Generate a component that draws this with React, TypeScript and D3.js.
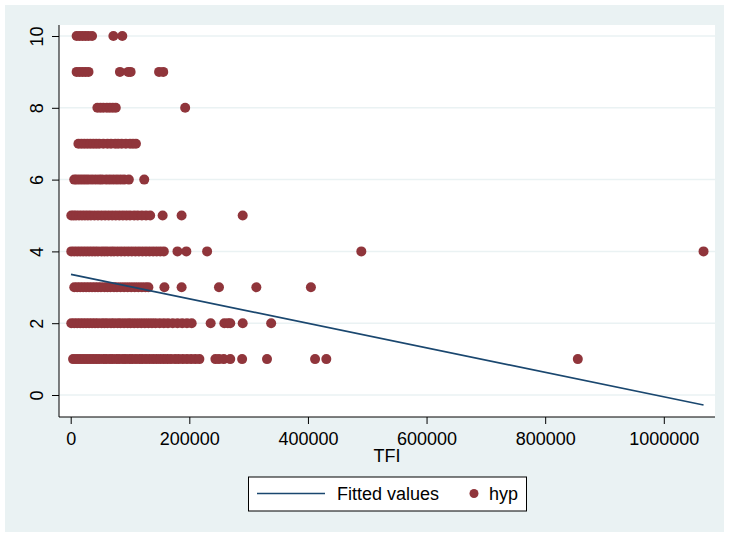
import { useEffect, useRef } from 'react';
import * as d3 from 'd3';

// TFI values observed at each hyp level
const hyp1 = [4000, 9000, 14000, 19000, 24000, 29000, 34000, 39000, 44000, 49000, 55000, 60000, 66000, 71000, 77000, 82000, 88000, 93000, 99000, 104000, 110000, 116000, 121000, 127000, 133000, 139000, 145000, 151000, 157000, 163000, 169000, 176000, 182000, 189000, 196000, 203000, 210000, 217000, 244000, 250000, 258000, 269000, 289000, 331000, 412000, 431000, 855000];
const hyp2 = [1000, 6000, 11000, 16000, 21000, 26000, 31000, 36000, 41000, 46000, 52000, 57000, 62000, 68000, 73000, 79000, 84000, 90000, 96000, 101000, 107000, 113000, 119000, 125000, 131000, 137000, 143000, 150000, 157000, 164000, 172000, 180000, 188000, 196000, 204000, 236000, 259000, 265000, 269000, 290000, 338000];
const hyp3 = [6000, 11000, 16000, 21000, 26000, 31000, 36000, 41000, 46000, 51000, 57000, 62000, 67000, 73000, 78000, 84000, 90000, 96000, 102000, 108000, 114000, 120000, 126000, 131000, 158000, 187000, 250000, 313000, 405000];
const hyp4 = [1000, 6000, 11000, 16000, 21000, 26000, 31000, 36000, 41000, 46000, 52000, 57000, 62000, 68000, 73000, 79000, 85000, 91000, 97000, 103000, 109000, 115000, 121000, 127000, 133000, 139000, 145000, 151000, 157000, 180000, 195000, 230000, 490000, 1067000];
const hyp5 = [1000, 5000, 9000, 14000, 19000, 24000, 29000, 34000, 40000, 46000, 52000, 58000, 64000, 70000, 76000, 82000, 88000, 94000, 100000, 107000, 113000, 120000, 127000, 134000, 155000, 187000, 290000];
const hyp6 = [6000, 10000, 15000, 20000, 25000, 30000, 36000, 42000, 48000, 53000, 60000, 66000, 72000, 78000, 84000, 90000, 98000, 124000];
const hyp7 = [13000, 18000, 23000, 28000, 33000, 38000, 43000, 48000, 55000, 62000, 68000, 75000, 80000, 86000, 93000, 100000, 105000, 110000];
const hyp8 = [45000, 50000, 55000, 61000, 66000, 71000, 76000, 193000];
const hyp9 = [10000, 15000, 20000, 25000, 30000, 83000, 97000, 101000, 149000, 156000];
const hyp10 = [10000, 15000, 20000, 25000, 30000, 36000, 72000, 87000];

const hypLevels = [1, 2, 3, 4, 5, 6, 7, 8, 9, 10];
const tfiByLevel = [hyp1, hyp2, hyp3, hyp4, hyp5, hyp6, hyp7, hyp8, hyp9, hyp10];

// linear fit end points
const fitX = [500, 1067000];
const fitY = [3.36, -0.28];

const xTicks = [0, 200000, 400000, 600000, 800000, 1000000];
const yTicks = [0, 2, 4, 6, 8, 10];

const FONT = '"Liberation Sans", Arial, sans-serif';
const NAVY = '#1a476f';
const MAROON = '#90353b';

export default function App() {
    const svgRef = useRef<SVGSVGElement | null>(null);

    useEffect(() => {
        if (!svgRef.current) return;
        const svg = d3.select(svgRef.current);
        svg.selectAll('*').remove();

        const plot = { left: 59, right: 715, top: 25, bottom: 417 };

        const x = d3.scaleLinear().domain([0, 1000000]).range([70.7, 663.8]);
        const y = d3.scaleLinear().domain([0, 10]).range([395, 36]);

        // outer graph region
        svg.append('rect')
            .attr('x', 5).attr('y', 5)
            .attr('width', 719).attr('height', 527)
            .attr('fill', '#eaf2f3');

        // plot region
        svg.append('rect')
            .attr('x', plot.left).attr('y', plot.top)
            .attr('width', plot.right - plot.left)
            .attr('height', plot.bottom - plot.top)
            .attr('fill', '#ffffff');

        // grid lines
        svg.append('g')
            .selectAll('line')
            .data(yTicks)
            .enter()
            .append('line')
            .attr('x1', plot.left).attr('x2', plot.right)
            .attr('y1', d => y(d)).attr('y2', d => y(d))
            .attr('stroke', '#eaf2f3')
            .attr('stroke-width', 1.5);

        // points
        const points = hypLevels.flatMap((h, i) => tfiByLevel[i].map(v => ({ tfi: v, hyp: h })));
        svg.append('g')
            .selectAll('circle')
            .data(points)
            .enter()
            .append('circle')
            .attr('cx', d => x(d.tfi))
            .attr('cy', d => y(d.hyp))
            .attr('r', 5)
            .attr('fill', MAROON);

        // fitted line
        const line = d3.line<number>()
            .x(d => x(d))
            .y((d, i) => y(fitY[i]));
        svg.append('path')
            .attr('d', line(fitX))
            .attr('fill', 'none')
            .attr('stroke', NAVY)
            .attr('stroke-width', 1.6);

        // y axis
        const yAxis = svg.append('g')
            .attr('transform', `translate(${plot.left},0)`)
            .call(d3.axisLeft(y).tickValues(yTicks).tickSize(7).tickFormat(d3.format('d')));
        yAxis.select('.domain')
            .attr('d', `M0,${plot.top}V${plot.bottom}`)
            .attr('stroke', '#000');
        yAxis.selectAll('.tick line').attr('stroke', '#000');
        yAxis.selectAll('.tick text')
            .attr('x', null).attr('dy', null)
            .attr('transform', 'translate(-16,0) rotate(-90)')
            .attr('text-anchor', 'middle')
            .attr('font-family', FONT)
            .attr('font-size', 18)
            .attr('fill', '#000');

        // x axis
        const xAxis = svg.append('g')
            .attr('transform', `translate(0,${plot.bottom})`)
            .call(d3.axisBottom(x).tickValues(xTicks).tickSize(7).tickFormat(d3.format('d')));
        xAxis.select('.domain')
            .attr('d', `M${plot.left},0H${plot.right}`)
            .attr('stroke', '#000');
        xAxis.selectAll('.tick line').attr('stroke', '#000');
        xAxis.selectAll('.tick text')
            .attr('y', 28).attr('dy', null)
            .attr('font-family', FONT)
            .attr('font-size', 18)
            .attr('fill', '#000');

        svg.append('text')
            .attr('x', (plot.left + plot.right) / 2)
            .attr('y', 462)
            .attr('text-anchor', 'middle')
            .attr('font-family', FONT)
            .attr('font-size', 18)
            .text('TFI');

        // legend
        const legend = svg.append('g');
        legend.append('rect')
            .attr('x', 248.5).attr('y', 477)
            .attr('width', 278).attr('height', 34)
            .attr('fill', '#fff')
            .attr('stroke', '#000')
            .attr('stroke-width', 1);
        legend.append('line')
            .attr('x1', 257).attr('x2', 325)
            .attr('y1', 493.5).attr('y2', 493.5)
            .attr('stroke', NAVY)
            .attr('stroke-width', 1.6);
        legend.append('text')
            .attr('x', 337).attr('y', 500)
            .attr('font-family', FONT)
            .attr('font-size', 18)
            .text('Fitted values');
        legend.append('circle')
            .attr('cx', 474).attr('cy', 493.5)
            .attr('r', 4.5)
            .attr('fill', MAROON);
        legend.append('text')
            .attr('x', 489).attr('y', 500)
            .attr('font-family', FONT)
            .attr('font-size', 18)
            .text('hyp');
    }, []);

    return (
        <svg
            ref={svgRef}
            width={730}
            height={533}
            style={{ position: 'absolute', left: 0, top: 0, background: '#fff' }}
        />
    );
}
